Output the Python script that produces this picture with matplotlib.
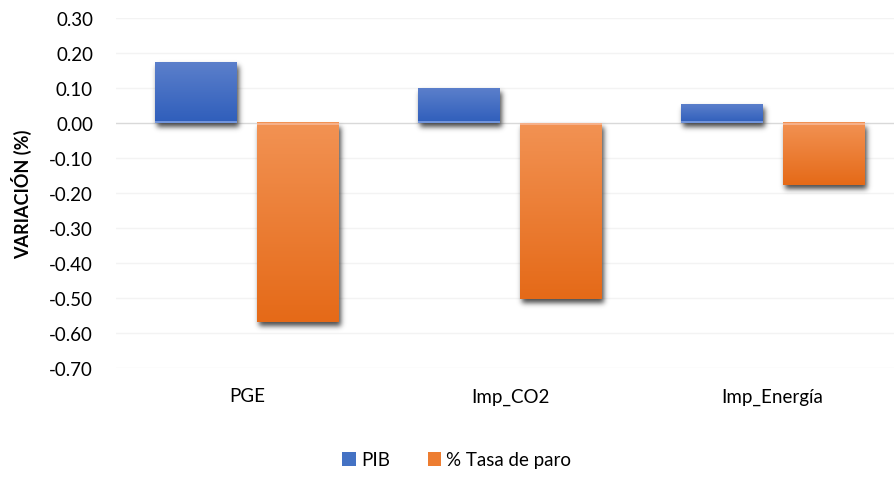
import numpy as np
import matplotlib
matplotlib.use("Agg")
import matplotlib.pyplot as plt
from matplotlib.colors import LinearSegmentedColormap
from matplotlib.patches import Patch

categories = ["PGE", "Imp_CO2", "Imp_Energía"]
pib = [0.173, 0.099, 0.053]
tasa_paro = [-0.569, -0.502, -0.178]
series_names = ["PIB", "% Tasa de paro"]
yticks = [0.30, 0.20, 0.10, 0.00, -0.10, -0.20, -0.30, -0.40, -0.50, -0.60, -0.70]

plt.rcParams["font.family"] = ["Lato", "DejaVu Sans"]

W, H, DPI = 894, 489, 100
fig = plt.figure(figsize=(W / DPI, H / DPI), dpi=DPI)
ax_l, ax_r, ax_t, ax_b = 116, 904, 19, 369
ax = fig.add_axes([ax_l / W, 1 - ax_b / H, (ax_r - ax_l) / W, (ax_b - ax_t) / H])

xmin, xmax = -0.5, 2.5
ymin, ymax = -0.70, 0.30
bw, gap = 0.312, 0.076
off = (bw + gap) / 2

blue_top, blue_bot = "#5B7FCB", "#2F5EBB"
orng_top, orng_bot = "#F29253", "#E56A18"

x = np.arange(len(categories))
rects = []
for xi, v in zip(x, pib):
    rects.append((xi - off - bw / 2, xi - off + bw / 2, min(0, v), max(0, v), blue_top, blue_bot, "#7295DC"))
for xi, v in zip(x, tasa_paro):
    rects.append((xi + off - bw / 2, xi + off + bw / 2, min(0, v), max(0, v), orng_top, orng_bot, "#F6B089"))

# soft drop shadow rendered as a blurred mask in pixel space
pw, ph = ax_r - ax_l, ax_b - ax_t
mask = np.zeros((ph, pw))
sx, sy = 2.0, 4.0
def to_px(xd, yd):
    return (xd - xmin) / (xmax - xmin) * pw, (ymax - yd) / (ymax - ymin) * ph
for x0, x1, y0, y1, *_ in rects:
    px0, py1 = to_px(x0, y0)
    px1, py0 = to_px(x1, y1)
    c0, c1 = int(round(px0 + sx)), int(round(px1 + sx))
    r0, r1 = int(round(py0 + sy)), int(round(py1 + sy))
    mask[max(r0, 0):min(r1, ph), max(c0, 0):min(c1, pw)] = 1.0
sig = 2.6
k = np.arange(-10, 11)
kern = np.exp(-k**2 / (2 * sig**2)); kern /= kern.sum()
mask = np.apply_along_axis(lambda r: np.convolve(r, kern, mode="same"), 1, mask)
mask = np.apply_along_axis(lambda c: np.convolve(c, kern, mode="same"), 0, mask)
shadow = np.zeros((ph, pw, 4))
shadow[..., :3] = 0.22
shadow[..., 3] = np.clip(mask * 0.9, 0, 1)

# gridlines
for t in yticks:
    col = "#D9D9D9" if t == 0 else "#F3F3F3"
    ax.axhline(t, color=col, lw=1.0, zorder=0.5)

ax.imshow(shadow, extent=(xmin, xmax, ymin, ymax), aspect="auto", zorder=1, interpolation="bilinear")

# gradient-filled bars
for i, (x0, x1, y0, y1, ctop, cbot, cedge) in enumerate(rects):
    grad = np.linspace(0, 1, 64)[:, None]
    cm = LinearSegmentedColormap.from_list(f"g{i}", [ctop, cbot])
    ax.imshow(grad, cmap=cm, extent=(x0, x1, y0, y1), aspect="auto", zorder=2, interpolation="bilinear")
    # lighter rim on the bar base at zero
    eh = 1.6 / ph * (ymax - ymin)
    if y1 == 0:
        ax.fill_between([x0, x1], -eh, 0, color=cedge, lw=0, zorder=2.5)
    else:
        ax.fill_between([x0, x1], 0, eh, color=cedge, lw=0, zorder=2.5)

ax.set_xlim(xmin, xmax)
ax.set_ylim(ymin, ymax)
ax.set_yticks(yticks)
ax.set_yticklabels([f"{t:.2f}" for t in yticks], fontsize=13.5, color="#000000")
ax.set_xticks(x)
ax.set_xticklabels(categories, fontsize=13.5)
ax.tick_params(axis="both", length=0)
ax.tick_params(axis="y", pad=16.5)
ax.tick_params(axis="x", pad=14)
for s in ax.spines.values():
    s.set_visible(False)
ax.set_ylabel("VARIACIÓN (%)", fontsize=13, fontweight="bold", labelpad=12)

handles = [Patch(facecolor="#4472C4", edgecolor="none"), Patch(facecolor="#ED7D31", edgecolor="none")]
fig.legend(handles, series_names, loc="center", bbox_to_anchor=(457 / W, 1 - 461 / H), ncol=2,
           frameon=False, fontsize=13.5, handlelength=0.7, handleheight=0.7,
           handletextpad=0.3, columnspacing=2.0)

fig.savefig("out.png", dpi=DPI)
